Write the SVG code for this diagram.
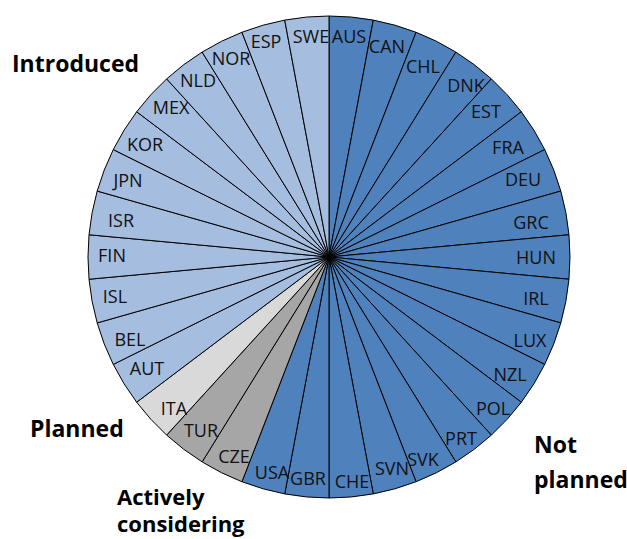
<svg xmlns="http://www.w3.org/2000/svg" width="627" height="539" viewBox="0 0 627 539">
<style>
.s{stroke:#000;stroke-width:1;stroke-linejoin:round}
.d{fill:#4F81BD}
.l{fill:#A5BDDE}
.g{fill:#A6A6A6}
.p{fill:#D9D9D9}
.t{font-family:"Open Sans","Liberation Sans",sans-serif;font-size:18px;fill:#111;text-anchor:middle}
.c{font-family:"Open Sans","Liberation Sans",sans-serif;font-size:23px;font-weight:bold;fill:#000}
.c2{font-family:"Open Sans","Liberation Sans",sans-serif;font-size:22px;font-weight:bold;fill:#000}
</style>
<rect width="627" height="539" fill="#fff"/>
<g id="AUS"><path class="s d" d="M329 257L329 16A241 241 0 0 1 373.28 20.10Z"/><text class="t" x="349" y="43">AUS</text></g>
<g id="CAN"><path class="s d" d="M329 257L373.28 20.10A241 241 0 0 1 416.06 32.27Z"/><text class="t" x="387" y="53">CAN</text></g>
<g id="CHL"><path class="s d" d="M329 257L416.06 32.27A241 241 0 0 1 455.87 52.10Z"/><text class="t" x="423" y="73">CHL</text></g>
<g id="DNK"><path class="s d" d="M329 257L455.87 52.10A241 241 0 0 1 491.36 78.90Z"/><text class="t" x="466" y="92">DNK</text></g>
<g id="EST"><path class="s d" d="M329 257L491.36 78.90A241 241 0 0 1 521.32 111.77Z"/><text class="t" x="486" y="118">EST</text></g>
<g id="FRA"><path class="s d" d="M329 257L521.32 111.77A241 241 0 0 1 544.73 149.58Z"/><text class="t" x="508" y="154">FRA</text></g>
<g id="DEU"><path class="s d" d="M329 257L544.73 149.58A241 241 0 0 1 560.80 191.05Z"/><text class="t" x="523" y="186">DEU</text></g>
<g id="GRC"><path class="s d" d="M329 257L560.80 191.05A241 241 0 0 1 568.97 234.76Z"/><text class="t" x="531" y="229">GRC</text></g>
<g id="HUN"><path class="s d" d="M329 257L568.97 234.76A241 241 0 0 1 568.97 279.24Z"/><text class="t" x="536" y="264">HUN</text></g>
<g id="IRL"><path class="s d" d="M329 257L568.97 279.24A241 241 0 0 1 560.80 322.95Z"/><text class="t" x="536" y="305">IRL</text></g>
<g id="LUX"><path class="s d" d="M329 257L560.80 322.95A241 241 0 0 1 544.73 364.42Z"/><text class="t" x="530" y="347">LUX</text></g>
<g id="NZL"><path class="s d" d="M329 257L544.73 364.42A241 241 0 0 1 521.32 402.23Z"/><text class="t" x="510" y="381">NZL</text></g>
<g id="POL"><path class="s d" d="M329 257L521.32 402.23A241 241 0 0 1 491.36 435.10Z"/><text class="t" x="493" y="415">POL</text></g>
<g id="PRT"><path class="s d" d="M329 257L491.36 435.10A241 241 0 0 1 455.87 461.90Z"/><text class="t" x="461" y="445">PRT</text></g>
<g id="SVK"><path class="s d" d="M329 257L455.87 461.90A241 241 0 0 1 416.06 481.73Z"/><text class="t" x="423" y="466">SVK</text></g>
<g id="SVN"><path class="s d" d="M329 257L416.06 481.73A241 241 0 0 1 373.28 493.90Z"/><text class="t" x="392" y="475">SVN</text></g>
<g id="CHE"><path class="s d" d="M329 257L373.28 493.90A241 241 0 0 1 329 498Z"/><text class="t" x="352" y="488">CHE</text></g>
<g id="GBR"><path class="s d" d="M329 257L329 498A241 241 0 0 1 284.72 493.90Z"/><text class="t" x="308" y="485">GBR</text></g>
<g id="USA"><path class="s d" d="M329 257L284.72 493.90A241 241 0 0 1 241.94 481.73Z"/><text class="t" x="272" y="479">USA</text></g>
<g id="CZE"><path class="s g" d="M329 257L241.94 481.73A241 241 0 0 1 202.13 461.90Z"/><text class="t" x="234" y="463">CZE</text></g>
<g id="TUR"><path class="s g" d="M329 257L202.13 461.90A241 241 0 0 1 166.64 435.10Z"/><text class="t" x="201" y="437">TUR</text></g>
<g id="ITA"><path class="s p" d="M329 257L166.64 435.10A241 241 0 0 1 136.68 402.23Z"/><text class="t" x="174" y="415">ITA</text></g>
<g id="AUT"><path class="s l" d="M329 257L136.68 402.23A241 241 0 0 1 113.27 364.42Z"/><text class="t" x="147" y="375">AUT</text></g>
<g id="BEL"><path class="s l" d="M329 257L113.27 364.42A241 241 0 0 1 97.20 322.95Z"/><text class="t" x="130" y="346">BEL</text></g>
<g id="ISL"><path class="s l" d="M329 257L97.20 322.95A241 241 0 0 1 89.03 279.24Z"/><text class="t" x="115" y="303">ISL</text></g>
<g id="FIN"><path class="s l" d="M329 257L89.03 279.24A241 241 0 0 1 89.03 234.76Z"/><text class="t" x="112" y="262">FIN</text></g>
<g id="ISR"><path class="s l" d="M329 257L89.03 234.76A241 241 0 0 1 97.20 191.05Z"/><text class="t" x="121" y="227">ISR</text></g>
<g id="JPN"><path class="s l" d="M329 257L97.20 191.05A241 241 0 0 1 113.27 149.58Z"/><text class="t" x="128" y="187">JPN</text></g>
<g id="KOR"><path class="s l" d="M329 257L113.27 149.58A241 241 0 0 1 136.68 111.77Z"/><text class="t" x="145" y="151">KOR</text></g>
<g id="MEX"><path class="s l" d="M329 257L136.68 111.77A241 241 0 0 1 166.64 78.90Z"/><text class="t" x="171" y="114">MEX</text></g>
<g id="NLD"><path class="s l" d="M329 257L166.64 78.90A241 241 0 0 1 202.13 52.10Z"/><text class="t" x="198" y="87">NLD</text></g>
<g id="NOR"><path class="s l" d="M329 257L202.13 52.10A241 241 0 0 1 241.94 32.27Z"/><text class="t" x="231" y="65">NOR</text></g>
<g id="ESP"><path class="s l" d="M329 257L241.94 32.27A241 241 0 0 1 284.72 20.10Z"/><text class="t" x="266" y="48">ESP</text></g>
<g id="SWE"><path class="s l" d="M329 257L284.72 20.10A241 241 0 0 1 329 16Z"/><text class="t" x="311" y="43">SWE</text></g>
<g id="categories">
<text class="c" x="12" y="72">Introduced</text>
<text class="c" x="30" y="437">Planned</text>
<text class="c2" x="117" y="505">Actively</text>
<text class="c2" x="117" y="532">considering</text>
<text class="c" x="534" y="453">Not</text>
<text class="c" x="534" y="488">planned</text>
</g>
</svg>
